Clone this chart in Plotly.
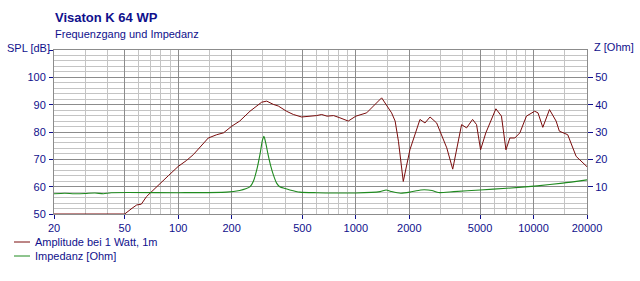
import plotly.graph_objects as go

# ---- data ----
spl_freq = [20, 50, 55, 58.4, 62, 66.4, 69.4, 79, 88, 100, 111.5, 121.6, 138.6, 147.7, 164.7, 180,
            200, 222, 253.6, 295, 315, 343, 366, 407, 445, 495, 600, 642, 688, 750, 813, 906,
            1000, 1150, 1397, 1589, 1664, 1737, 1849, 2015, 2296, 2450, 2615, 2850, 3248, 3510,
            3937, 4200, 4540, 4780, 5036, 5390, 6140, 6600, 6995, 7360, 7850, 8380, 9120, 10150,
            10600, 11280, 12300, 13400, 13980, 15580, 17370, 20000]
spl_db = [50, 50, 52.1, 53.3, 53.6, 56.4, 57.6, 61.3, 64.0, 67.4, 69.6, 71.7, 76.0, 77.8, 79.0, 79.7,
          82.1, 84.0, 87.6, 90.9, 91.3, 90.1, 89.5, 87.6, 86.4, 85.5, 86.0, 86.4, 85.8, 86.0, 85.2, 84.0,
          85.8, 87.0, 92.5, 87.0, 84.0, 76.6, 61.9, 73.5, 84.6, 83.3, 85.5, 83.3, 74.2, 66.4,
          82.7, 81.5, 84.6, 82.7, 73.5, 79.7, 88.5, 85.8, 73.5, 77.8, 77.8, 79.7, 85.8, 87.6,
          87.0, 81.7, 88.2, 84.0, 80.3, 79.0, 71.1, 67.3]

imp_freq = [20, 23, 26, 30, 34, 38, 42, 100, 187, 222, 240, 254, 265, 277, 289, 298, 304, 311, 320,
            332, 343, 358, 373, 400, 425, 484, 600, 1000, 1370, 1480, 1590, 1790, 2015, 2320, 2680,
            2920, 3560, 5010, 7060, 10500, 14600, 20000]
imp_ohm = [7.4, 7.6, 7.4, 7.5, 7.7, 7.4, 7.8, 7.8, 8.0, 8.6, 9.2, 10.0, 12.0, 16.2, 22.0, 27.0, 28.4, 26.0,
           22.0, 17.5, 14.4, 11.3, 10.0, 9.3, 8.8, 8.0, 7.8, 7.7, 8.2, 8.8, 8.2, 7.6, 8.0, 8.8, 8.6,
           7.85, 8.2, 8.8, 9.4, 10.3, 11.3, 12.5]

x_major = [20, 50, 100, 200, 500, 1000, 2000, 5000, 10000, 20000]
x_minor = [30, 40, 60, 70, 80, 90, 150, 300, 400, 600, 700, 800, 900, 1500,
           3000, 4000, 6000, 7000, 8000, 9000, 15000]
spl_ticks = [50, 60, 70, 80, 90, 100]
z_ticks = [10, 20, 30, 40, 50]

title = "Visaton K 64 WP"
subtitle = "Frequenzgang und Impedanz"
spl_name = "Amplitude bei 1 Watt, 1m"
imp_name = "Impedanz [Ohm]"

# ---- styling ----
BLUE = "#10108c"
RED = "#7a0c0c"
GREEN = "#1f8a1f"
FONT = "Liberation Sans"
W, H = 640, 281
ML, MR, MT, MB = 54, 53, 50, 67
PW, PH = W - ML - MR, H - MT - MB

def px(xp):
    return (xp - ML) / PW

def py(yp):
    return (MT + PH - yp) / PH

fig = go.Figure()
fig.add_trace(go.Scatter(x=spl_freq, y=spl_db, mode="lines", name=spl_name,
                         line=dict(color=RED, width=1), yaxis="y", showlegend=False))
fig.add_trace(go.Scatter(x=imp_freq, y=imp_ohm, mode="lines", name=imp_name,
                         line=dict(color=GREEN, width=1.1, shape="spline", smoothing=0.6),
                         yaxis="y2", showlegend=False))

fig.update_layout(
    width=W, height=H, autosize=False,
    margin=dict(l=ML, r=MR, t=MT, b=MB, pad=0),
    paper_bgcolor="white", plot_bgcolor="white",
    font=dict(family=FONT, size=11, color=BLUE),
    xaxis=dict(type="log", range=[1.30103, 4.30103],
               tickvals=x_major, ticktext=[str(v) for v in x_major],
               ticks="outside", ticklen=4, tickcolor=BLUE, tickwidth=1,
               showgrid=True, gridcolor="#8c8c8c", gridwidth=1,
               showline=True, linecolor="#8c8c8c", linewidth=1, mirror=True,
               zeroline=False,
               minor=dict(tickvals=x_minor, showgrid=True, gridcolor="#c4c4c4",
                          gridwidth=1, ticks="")),
    yaxis=dict(range=[50, 110], tickvals=spl_ticks + [110], ticktext=[str(v) for v in spl_ticks] + [""],
               ticks="outside", ticklen=4, tickcolor=BLUE, tickwidth=1,
               ticklabelstandoff=1,
               showgrid=True, gridcolor="#8c8c8c", gridwidth=1,
               showline=True, linecolor="#8c8c8c", linewidth=1, mirror=True,
               zeroline=False,
               minor=dict(dtick=2, tick0=50, showgrid=True, gridcolor="#c4c4c4",
                          gridwidth=1, ticks="")),
    yaxis2=dict(range=[0, 60], overlaying="y", side="right",
                tickvals=z_ticks, ticktext=[str(v) for v in z_ticks],
                ticks="outside", ticklen=5, tickcolor=BLUE, tickwidth=1,
                ticklabelstandoff=0,
                showgrid=False, showline=False, zeroline=False),
)

annotations = [
    dict(text="<b>" + title + "</b>", x=px(53), y=py(17), xref="paper", yref="paper",
         xanchor="left", yanchor="middle", showarrow=False, font=dict(size=13, color=BLUE)),
    dict(text=subtitle, x=px(53), y=py(34), xref="paper", yref="paper",
         xanchor="left", yanchor="middle", showarrow=False, font=dict(size=11, color=BLUE)),
    dict(text="SPL [dB]", x=px(52), y=py(48), xref="paper", yref="paper",
         xanchor="right", yanchor="middle", showarrow=False, font=dict(size=11, color=BLUE)),
    dict(text="Z [Ohm]", x=px(592), y=py(47), xref="paper", yref="paper",
         xanchor="left", yanchor="middle", showarrow=False, font=dict(size=11, color=BLUE)),
    dict(text=spl_name, x=px(33), y=py(242), xref="paper", yref="paper",
         xanchor="left", yanchor="middle", showarrow=False, font=dict(size=11, color=BLUE)),
    dict(text=imp_name, x=px(33), y=py(256), xref="paper", yref="paper",
         xanchor="left", yanchor="middle", showarrow=False, font=dict(size=11, color=BLUE)),
]
shapes = [
    dict(type="line", xref="paper", yref="paper", x0=px(14), x1=px(30), y0=py(242), y1=py(242),
         line=dict(color=RED, width=1)),
    dict(type="line", xref="paper", yref="paper", x0=px(14), x1=px(30), y0=py(256), y1=py(256),
         line=dict(color=GREEN, width=1)),
]
fig.update_layout(annotations=annotations, shapes=shapes)

fig.write_html("out.html")
